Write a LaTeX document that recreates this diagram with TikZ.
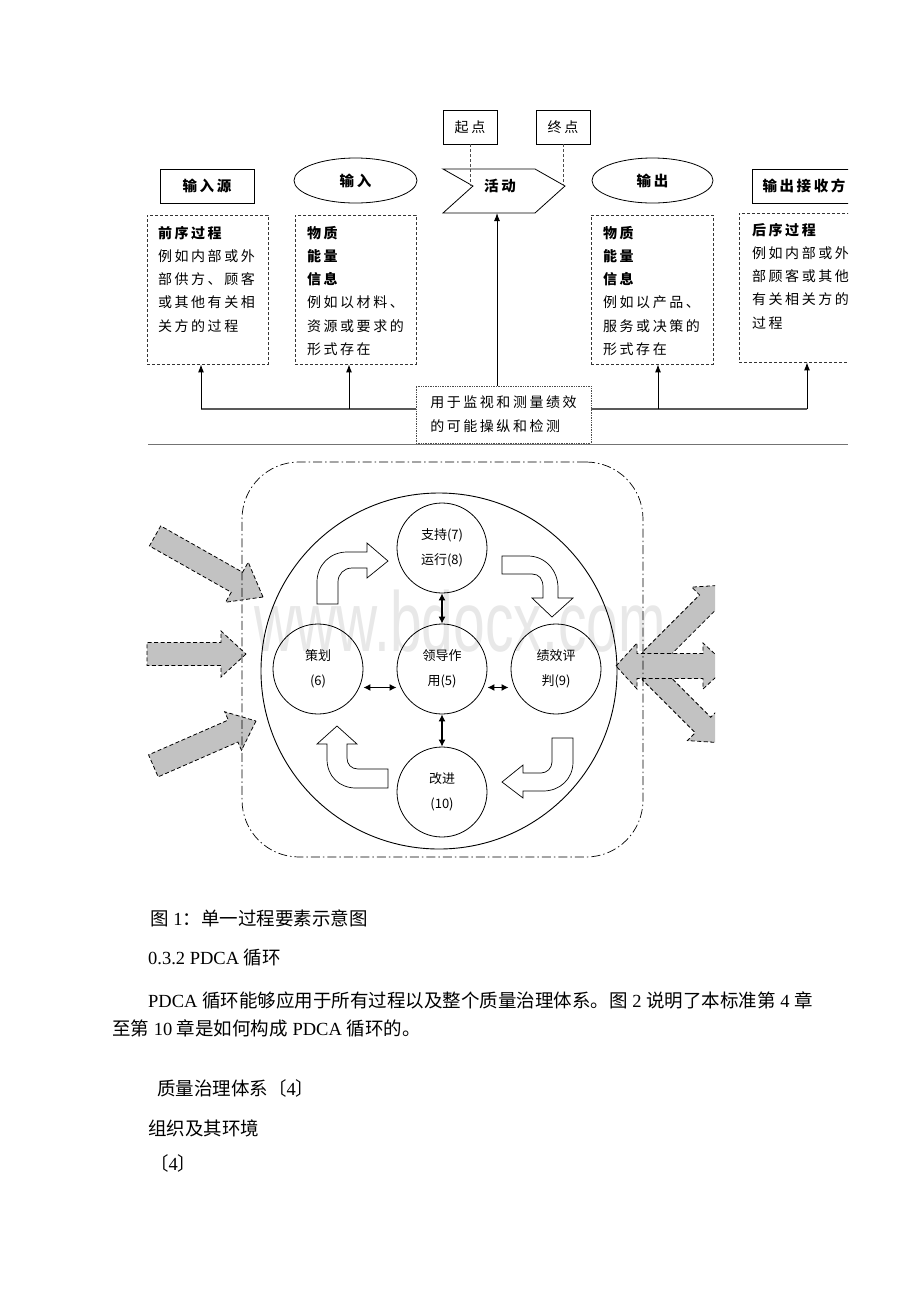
\documentclass[tikz,border=0pt]{standalone}
\usepackage{fontspec}
\usepackage{graphicx}
\setmainfont{Liberation Serif}
\newfontfamily\zh{Noto Sans CJK SC}
\newfontfamily\zhs[LetterSpace=18]{Noto Sans CJK SC}
\newfontfamily\wmfont{Liberation Sans}
\usetikzlibrary{arrows.meta,shapes.geometric,calc}
\newcommand\Z[1]{{\zh #1}}
\newcommand\grayarrow[7]{%
  \begin{scope}[shift={(#1,#2)},rotate={-(#3)}]
    \draw[garr] (0,0) -- (-#7,#6) -- (-#7,#5) -- (-#4,#5) -- (-#4,-#5) -- (-#7,-#5) -- (-#7,-#6) -- cycle;
  \end{scope}}
\tikzset{
  thinln/.style={line width=0.8pt},
  hdr/.style={draw, line width=0.8pt, font=\zhs\bfseries\fontsize{14.5}{16}\selectfont, inner sep=0, minimum height=34},
  ptbox/.style={draw, line width=0.8pt, font=\zhs\fontsize{14}{16}\selectfont, inner sep=0, minimum width=54, minimum height=34},
  dbox/.style={draw=black!80, dash pattern=on 3pt off 2pt, line width=0.8pt, minimum width=121, minimum height=149, inner sep=0},
  btxt/.style={font=\zhs\fontsize{14}{23.2}\selectfont, align=left, anchor=north west, inner sep=0},
  mbox/.style={draw=black!70, densely dotted, line width=0.7pt, fill=white, minimum width=175, minimum height=57, inner sep=0, align=left, font=\zhs\fontsize{14}{24}\selectfont},
  upar/.style={line width=1pt, -{Latex[length=8pt,width=6pt]}},
  fbline/.style={draw=black!65, line width=1.4pt},
  conn/.style={draw=black!70, dash pattern=on 3pt off 2pt, line width=0.7pt},
  circ/.style={draw, circle, line width=0.8pt, minimum size=90, inner sep=0, align=center, font=\zh\fontsize{13}{25}\selectfont},
  dbl/.style={line width=1.1pt, {Latex[length=7pt,width=7pt]}-{Latex[length=7pt,width=7pt]}},
  barr/.style={draw, fill=white, line width=0.7pt},
  garr/.style={draw, fill=black!24, dash pattern=on 4pt off 2.5pt, line width=0.8pt},
  frm/.style={draw, dash pattern=on 9pt off 3pt on 1.5pt off 3pt, line width=0.7pt, rounded corners=57pt},
  body/.style={anchor=west, inner sep=0, font=\fontsize{18.5}{22}\selectfont},
}
\begin{document}
\begin{tikzpicture}[x=1pt,y=-1pt]
\useasboundingbox (0,0) rectangle (920,1302);
\fill[white] (0,0) rectangle (920,1302);

% ---------------- top diagram ----------------
\begin{scope}
\clip (0,0) rectangle (848,450);
\node[ptbox] (qd) at (470,127) {起点};
\node[ptbox] (zd) at (563,127) {终点};
\draw[thinln] (443,169) -- (535,169) -- (565,186) -- (535,213) -- (443,213) -- (473,186) -- cycle;
\coordinate (notch) at (473,186);
\coordinate (tip) at (565,186);
\coordinate (actS) at (497,213);
\node[font=\zhs\bfseries\fontsize{14.5}{16}\selectfont, inner sep=0] (act) at (500,186) {活动};

\node[hdr, minimum width=94] (src) at (207,186) {输入源};
\node[hdr, ellipse, minimum width=123, minimum height=45] (in) at (355.5,180.5) {输入};
\node[hdr, ellipse, minimum width=121, minimum height=45] (out) at (652.5,180.5) {输出};
\node[hdr, minimum width=104] (rcv) at (804,186) {输出接收方};

\node[dbox] (b1) at (207.5,289.5) {};
\node[dbox] (b2) at (355.5,289.5) {};
\node[dbox, minimum width=122] (b3) at (652,289.5) {};
\node[dbox] (b4) at (799.5,287.5) {};
\node[btxt] (t1) at (158,226) {\textbf{前序过程}\\例如内部或外\\部供方、顾客\\或其他有关相\\关方的过程};
\node[btxt] (t2) at (307,226) {\textbf{物质}\\\textbf{能量}\\\textbf{信息}\\例如以材料、\\资源或要求的\\形式存在};
\node[btxt] (t3) at (603,226) {\textbf{物质}\\\textbf{能量}\\\textbf{信息}\\例如以产品、\\服务或决策的\\形式存在};
\node[btxt] (t4) at (752,223) {\textbf{后序过程}\\例如内部或外\\部顾客或其他\\有关相关方的\\过程};

\coordinate (fL) at (201,409);
\coordinate (f2) at (349,409);
\coordinate (f3) at (658,409);
\coordinate (fR) at (807,409);
\node[mbox] (mon) at (503.5,414.5) {用于监视和测量绩效\\的可能操纵和检测};
\draw[fbline] (fL) -- (fL -| mon.west);
\draw[fbline] (fR) -- (fR -| mon.east);
\draw[upar] (fL) -- (fL |- b1.south);
\draw[upar] (f2) -- (f2 |- b2.south);
\draw[upar] (f3) -- (f3 |- b3.south);
\draw[upar] (fR) -- (fR |- b4.south);
\draw[upar] (mon.north -| actS) -- (actS);
\draw[conn] (qd.south) -- (qd.south |- notch);
\draw[conn] (zd.south) -- (zd.south |- tip);
\draw[black!55, line width=1pt] (148,444) -- (848,444);
\end{scope}

% ---------------- bottom diagram ----------------
\node[font=\wmfont\fontsize{85}{90}\selectfont, text=black!9, anchor=base, inner sep=0] (wm) at (460,651) {\scalebox{0.67}[1]{www.bdocx.com}};

\grayarrow{263}{597}{29.5}{124}{11.5}{23}{30}
\grayarrow{246}{654}{0}{99}{11.5}{23}{25}
\grayarrow{256}{721}{-23.6}{112}{12}{21}{25}

\begin{scope}
\clip (600,550) rectangle (715,770);
\grayarrow{725}{585}{-45}{106}{11}{22}{25}
\grayarrow{720.7}{742.7}{45}{100}{11}{22}{25}
\draw[garr] (616,666) -- (637,643) -- (637,653.5) -- (703,653.5) -- (703,643) -- (728,666) -- (703,689) -- (703,678.5) -- (637,678.5) -- (637,689) -- cycle;
\end{scope}

\node[frm, minimum width=401, minimum height=395, inner sep=0] (frame) at (442.5,659.5) {};
\node[draw, circle, line width=0.9pt, minimum size=356, inner sep=0] (big) at (439,671) {};

\node[circ] (c7) at (442,548) {支持(7)\\运行(8)};
\node[circ] (c5) at (442,669) {领导作\\用(5)};
\node[circ] (c6) at (318,669) {策划\\(6)};
\node[circ] (c9) at (556,669) {绩效评\\判(9)};
\node[circ] (c10) at (442,792) {改进\\(10)};

\draw[dbl] (c7.south) -- (c5.north);
\draw[dbl] (c5.south) -- (c10.north);
\draw[dbl, shorten <=4pt, shorten >=4pt] (c6.-24) -- (c5.-156);
\draw[dbl, shorten <=4pt, shorten >=6pt] (c5.-24) -- (c9.-156);

% curved block arrows
\draw[barr] (317,604) -- (317,582) .. controls (317,565) and (330,552) .. (347,552) -- (367,552) -- (367,543) -- (388,561) -- (367,578) -- (367,568) -- (352,568) .. controls (344,568) and (338,574) .. (338,582) -- (338,604) -- cycle;
\draw[barr] (502,556) -- (528,556) .. controls (545,556) and (558,570) .. (558,588) -- (558,598) -- (573,598) -- (552,617) -- (532,598) -- (543,598) -- (543,587) .. controls (543,579) and (539,574) .. (532,574) -- (502,574) -- cycle;
\draw[barr] (552,738) -- (573,738) -- (573,762) .. controls (573,779) and (560,791) .. (543,791) -- (523,791) -- (523,798) -- (502,782) -- (523,765) -- (523,773) -- (541,773) .. controls (547,773) and (552,768) .. (552,762) -- cycle;
\draw[barr] (388,769) -- (388,788) -- (356,788) .. controls (339,788) and (327,776) .. (327,759) -- (327,744) -- (317,744) -- (337,726) -- (357,744) -- (347,744) -- (347,758) .. controls (347,764) and (351,769) .. (358,769) -- cycle;

% ---------------- text below ----------------
\node[body] (cap) at (150,918) {\Z{图} 1\Z{：单一过程要素示意图}};
\node[body] (sec) at (148,958) {0.3.2 PDCA \Z{循环}};
\node[body] (p1) at (148,1000) {PDCA \Z{循环能够应用于所有过程以及整个质量治理体系。图} 2 \Z{说明了本标准第} 4 \Z{章}};
\node[body] (p2) at (112,1028) {\Z{至第} 10 \Z{章是如何构成} PDCA \Z{循环的。}};
\node[body] (q1) at (157,1088) {\Z{质量治理体系〔}4\Z{〕}};
\node[body] (q2) at (148,1128) {\Z{组织及其环境}};
\node[body] (q3) at (150,1163) {\Z{〔}4\Z{〕}};
\end{tikzpicture}
\end{document}
